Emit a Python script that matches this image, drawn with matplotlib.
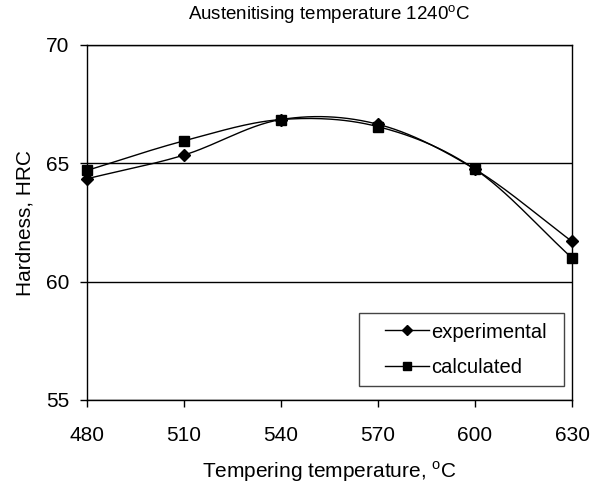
import numpy as np
import matplotlib.pyplot as plt
from matplotlib.patches import Rectangle

plt.rcParams['font.family'] = ['Liberation Sans', 'DejaVu Sans']

temps = [480, 510, 540, 570, 600, 630]
experimental = [64.35, 65.35, 66.85, 66.65, 64.75, 61.7]
calculated = [64.7, 65.95, 66.85, 66.55, 64.75, 61.0]


def smooth(x, y, n=30):
    # Catmull-Rom style smoothing, like a spreadsheet "smoothed line"
    x = np.asarray(x, float)
    y = np.asarray(y, float)
    px = np.concatenate([[2 * x[0] - x[1]], x, [2 * x[-1] - x[-2]]])
    py = np.concatenate([[2 * y[0] - y[1]], y, [2 * y[-1] - y[-2]]])
    xs, ys = [], []
    t = np.linspace(0, 1, n)
    for i in range(1, len(px) - 2):
        p0, p1, p2, p3 = px[i - 1:i + 3]
        q0, q1, q2, q3 = py[i - 1:i + 3]
        xs.append(0.5 * (2 * p1 + (-p0 + p2) * t + (2 * p0 - 5 * p1 + 4 * p2 - p3) * t**2
                         + (-p0 + 3 * p1 - 3 * p2 + p3) * t**3))
        ys.append(0.5 * (2 * q1 + (-q0 + q2) * t + (2 * q0 - 5 * q1 + 4 * q2 - q3) * t**2
                         + (-q0 + 3 * q1 - 3 * q2 + q3) * t**3))
    return np.concatenate(xs), np.concatenate(ys)


fig = plt.figure(figsize=(6.02, 4.83), dpi=100)
ax = fig.add_axes([87 / 602, 1 - 400 / 483, 485 / 602, 355 / 483])

for vals, marker, ms, label in [(experimental, 'D', 6.5, 'experimental'),
                                (calculated, 's', 7, 'calculated')]:
    sx, sy = smooth(temps, vals)
    ax.plot(sx, sy, color='black', lw=1, clip_on=False)
    ax.plot(temps, vals, linestyle='none', marker=marker, ms=ms, color='black',
            clip_on=False, zorder=3)
    ax.plot([], [], color='black', lw=1, marker=marker, ms=ms - 1.5, label=label)

ax.set_xlim(480, 630)
ax.set_ylim(55, 70)
ax.set_xticks(temps)
ax.set_yticks([55, 60, 65, 70])
ax.yaxis.grid(True, color='black', lw=1)
ax.set_axisbelow(True)
ax.tick_params(labelsize=15, direction='out', length=5, width=1)
ax.tick_params(axis='x', pad=14)
ax.tick_params(axis='y', pad=8)
for s in ax.spines.values():
    s.set_linewidth(1)

ax.set_xlabel('Tempering temperature, $^{\\mathregular{o}}$C', fontsize=15, labelpad=10)
ax.set_ylabel('Hardness, HRC', fontsize=15, labelpad=8)
ax.set_title('Austenitising temperature 1240$^{\\mathregular{o}}$C', fontsize=13.5, pad=18)

# legend box drawn separately (wide side padding like the original)
ax.add_patch(Rectangle((0.561, 0.039), 0.423, 0.206, transform=ax.transAxes,
                       facecolor='white', edgecolor='#444444', lw=1, zorder=4))
leg = ax.legend(loc='center', bbox_to_anchor=(0.781, 0.142), borderaxespad=0,
                fontsize=14.5, frameon=False, handlelength=2.15, handletextpad=0.1,
                borderpad=0, labelspacing=0.8)
leg.set_zorder(5)

fig.savefig('out.png', dpi=100)
